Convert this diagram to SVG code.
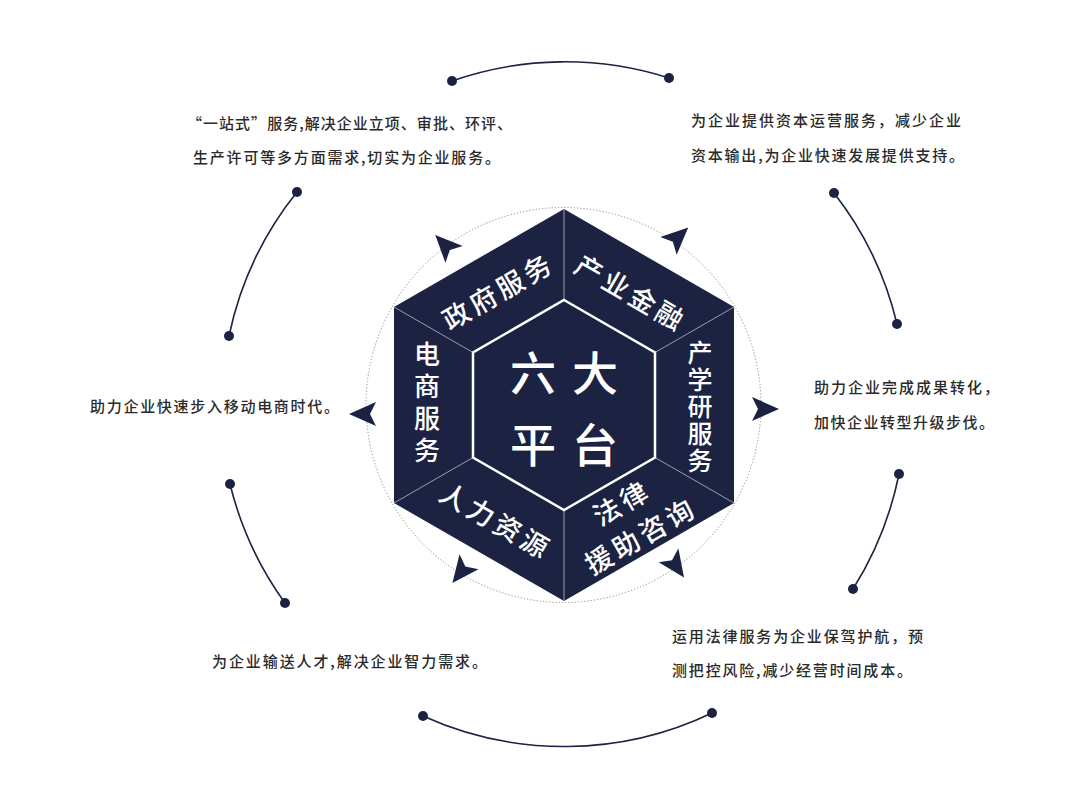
<svg xmlns="http://www.w3.org/2000/svg" width="1080" height="810" viewBox="0 0 1080 810">
<style>
.desc{font-family:"Noto Sans CJK SC","Noto Sans",sans-serif;font-size:15px;fill:#2a2a2a;font-weight:500}
.lab{font-family:"Noto Sans CJK SC","Noto Sans",sans-serif;font-size:27px;fill:#ffffff;font-weight:500;letter-spacing:4px}
.vlab{font-family:"Noto Sans CJK SC","Noto Sans",sans-serif;font-size:25px;fill:#ffffff;font-weight:500;writing-mode:vertical-rl;text-orientation:upright}
.big{font-family:"Noto Sans CJK SC","Noto Sans",sans-serif;font-size:46px;fill:#ffffff;font-weight:500}
.arc{fill:none;stroke:#1c2242;stroke-width:1.6}
.dot{fill:#1c2242}
.arr{fill:#1c2242}
.spoke{stroke:#9a9eb0;stroke-width:1}
</style>
<defs>
<path id="dart" d="M14,0 L-13,-12 L-7,0 L-13,12 Z"/>
</defs>
<rect width="1080" height="810" fill="#ffffff"/>

<g id="ring">
<circle cx="563.5" cy="405" r="197.5" fill="none" stroke="#8a8a8a" stroke-width="1" stroke-dasharray="1.2 2"/>
</g>

<g id="hexagon">
<polygon points="564,209 734,307 734,503 564,601 394,503 394,307" fill="#1c2242"/>
<line class="spoke" x1="564" y1="300" x2="564" y2="209"/>
<line class="spoke" x1="655" y1="352.5" x2="734" y2="307"/>
<line class="spoke" x1="655" y1="457.5" x2="734" y2="503"/>
<line class="spoke" x1="564" y1="510" x2="564" y2="601"/>
<line class="spoke" x1="473" y1="457.5" x2="394" y2="503"/>
<line class="spoke" x1="473" y1="352.5" x2="394" y2="307"/>
<polygon points="564,300 655,352.5 655,457.5 564,510 473,457.5 473,352.5" fill="none" stroke="#ffffff" stroke-width="2.5"/>
</g>

<g id="center">
<text class="big" x="533" y="370" text-anchor="middle" dominant-baseline="central">六</text>
<text class="big" x="595" y="370" text-anchor="middle" dominant-baseline="central">大</text>
<text class="big" x="533" y="442" text-anchor="middle" dominant-baseline="central">平</text>
<text class="big" x="595" y="442" text-anchor="middle" dominant-baseline="central">台</text>
</g>

<g id="node-gov">
<text class="lab" transform="translate(496,291) rotate(-30)" x="2" y="0" text-anchor="middle" dominant-baseline="central">政府服务</text>
</g>
<g id="node-finance">
<text class="lab" transform="translate(630,291) rotate(30)" x="2" y="0" text-anchor="middle" dominant-baseline="central">产业金融</text>
</g>
<g id="node-research">
<text class="vlab" x="700" y="339.5" style="letter-spacing:2px">产学研服务</text>
</g>
<g id="node-ecommerce">
<text class="vlab" x="427" y="341" style="font-size:26px;letter-spacing:6px">电商服务</text>
</g>
<g id="node-hr">
<text class="lab" transform="translate(495,519) rotate(30)" x="2" y="0" text-anchor="middle" dominant-baseline="central">人力资源</text>
</g>
<g id="node-legal">
<g transform="translate(629,519) rotate(-30)">
<text class="lab" x="2" y="-19" text-anchor="middle" dominant-baseline="central">法律</text>
<text class="lab" x="2" y="19" text-anchor="middle" dominant-baseline="central">援助咨询</text>
</g>
</g>

<g id="connectors">
<use href="#dart" class="arr" transform="translate(445,245) rotate(-134)"/>
<use href="#dart" class="arr" transform="translate(678,237) rotate(-43)"/>
<use href="#dart" class="arr" transform="translate(765,409)"/>
<use href="#dart" class="arr" transform="translate(363,414) rotate(180)"/>
<use href="#dart" class="arr" transform="translate(461,572) rotate(128)"/>
<use href="#dart" class="arr" transform="translate(676,566) rotate(55)"/>

<path class="arc" d="M452,81 A342,342 0 0 1 669,78"/>
<path class="arc" d="M834,193 A342,342 0 0 1 897,324"/>
<path class="arc" d="M899,474 A342,342 0 0 1 853,589"/>
<path class="arc" d="M712,713 A342,342 0 0 1 423,716"/>
<path class="arc" d="M285,603 A342,342 0 0 1 230,484"/>
<path class="arc" d="M229,336 A342,342 0 0 1 297,192"/>
<circle class="dot" cx="452" cy="81" r="5"/>
<circle class="dot" cx="669" cy="78" r="5"/>
<circle class="dot" cx="834" cy="193" r="5"/>
<circle class="dot" cx="897" cy="324" r="5"/>
<circle class="dot" cx="899" cy="474" r="5"/>
<circle class="dot" cx="853" cy="589" r="5"/>
<circle class="dot" cx="712" cy="713" r="5"/>
<circle class="dot" cx="423" cy="716" r="5"/>
<circle class="dot" cx="285" cy="603" r="5"/>
<circle class="dot" cx="230" cy="484" r="5"/>
<circle class="dot" cx="229" cy="336" r="5"/>
<circle class="dot" cx="297" cy="192" r="5"/>
</g>

<g id="desc-gov">
<text class="desc" x="187" y="129" textLength="325" lengthAdjust="spacing">“一站式”服务,解决企业立项、审批、环评、</text>
<text class="desc" x="193" y="163" textLength="307" lengthAdjust="spacing">生产许可等多方面需求,切实为企业服务。</text>
</g>
<g id="desc-finance">
<text class="desc" x="691" y="126" textLength="270" lengthAdjust="spacing">为企业提供资本运营服务，减少企业</text>
<text class="desc" x="691" y="161" textLength="273" lengthAdjust="spacing">资本输出,为企业快速发展提供支持。</text>
</g>
<g id="desc-research">
<text class="desc" x="814" y="393" textLength="185" lengthAdjust="spacing">助力企业完成成果转化，</text>
<text class="desc" x="814" y="428" textLength="180" lengthAdjust="spacing">加快企业转型升级步伐。</text>
</g>
<g id="desc-legal">
<text class="desc" x="672" y="642" textLength="251" lengthAdjust="spacing">运用法律服务为企业保驾护航，预</text>
<text class="desc" x="672" y="676" textLength="240" lengthAdjust="spacing">测把控风险,减少经营时间成本。</text>
</g>
<g id="desc-hr">
<text class="desc" x="212" y="667" textLength="275" lengthAdjust="spacing">为企业输送人才,解决企业智力需求。</text>
</g>
<g id="desc-ecommerce">
<text class="desc" x="90" y="412" textLength="249" lengthAdjust="spacing">助力企业快速步入移动电商时代。</text>
</g>
</svg>
